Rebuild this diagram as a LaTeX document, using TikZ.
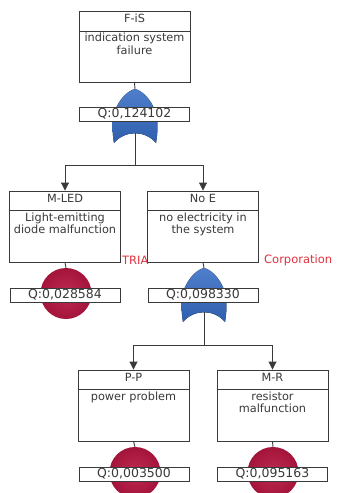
\documentclass[tikz,border=0pt]{standalone}
\usepackage{fontspec}
\setmainfont{DejaVu Sans}
\usetikzlibrary{arrows.meta}
\definecolor{ink}{HTML}{3A3A3A}
\definecolor{gateblue}{HTML}{2F5EAE}
\definecolor{gatelight}{HTML}{4F7FCB}
\definecolor{evred}{HTML}{A3143B}
\definecolor{evlight}{HTML}{C02A50}
\definecolor{mark}{HTML}{E0323E}
\tikzset{
  evbox/.style={draw=ink, line width=0.9pt, minimum width=111pt, minimum height=71pt, inner sep=0pt},
  qbox/.style={draw=ink, line width=0.9pt, fill=white, minimum width=110pt, minimum height=14pt, inner sep=0pt, font=\fontsize{12.5}{13}\selectfont, text=ink},
  hdr/.style={font=\fontsize{11.3}{12}\selectfont, text=ink, inner sep=0pt},
  desc/.style={font=\fontsize{11.3}{12.5}\selectfont, text=ink, align=center, inner sep=0pt, anchor=north},
  link/.style={draw=ink, line width=0.9pt},
  arr/.style={link, -{Triangle[width=8pt,length=8pt]}},
  basic/.style={circle, minimum size=51pt, inner sep=0pt, inner color=evlight, outer color=evred},
  wm/.style={text=mark, font=\fontsize{11.5}{12}\selectfont, inner sep=0pt},
  pics/orgate/.style={code={
    \fill[top color=gatelight, bottom color=gateblue]
      (0,0) .. controls (8,1.5) and (20,14) .. (22,30)
      .. controls (23,40) and (22,48) .. (21,54)
      .. controls (10,41) and (-10,41) .. (-21,54)
      .. controls (-22,48) and (-23,40) .. (-22,30)
      .. controls (-20,14) and (-8,1.5) .. (0,0) -- cycle;
    \coordinate (-tip) at (0,0);
    \coordinate (-out) at (0,44);
  }}
}
\newcommand{\eventbox}[4]{%
  % #1 name, #2 centre, #3 header text, #4 description
  \node[evbox] (#1) at (#2) {};
  \draw[link] ([yshift=-20pt]#1.north west) -- ([yshift=-20pt]#1.north east);
  \node[hdr] (#1-h) at ([yshift=-7.5pt]#1.north) {#3};
  \node[desc] (#1-d) at ([yshift=-22pt]#1.north) {#4};
}
\begin{document}
\begin{tikzpicture}[x=1pt, y=-1pt]
\useasboundingbox[fill=white] (0,0) rectangle (338,493);

% top event and its OR gate
\eventbox{fis}{134.5,47}{F-iS}{indication system\\failure}
\pic (g1) at (135,89) {orgate};
\draw[link] (fis.south) -- (g1-tip);
\node[qbox] (q1) at (134.5,114) {Q:0,124102};

% second level
\eventbox{mled}{65,226.5}{M-LED}{Light-emitting\\diode malfunction}
\eventbox{noe}{203,226.5}{No E}{no electricity in\\the system}
\coordinate (j1) at (135,165);
\draw[link] (g1-out) -- (j1);
\draw[arr] (j1) -| (mled.north);
\draw[arr] (j1) -| (noe.north);

\node[basic] (b1) at (66,293.5) {};
\draw[link] (mled.south) -- (b1.north);
\node[qbox] (q2) at (65,295) {Q:0,028584};

\pic (g2) at (204,268) {orgate};
\draw[link] (noe.south) -- (g2-tip);
\node[qbox] (q3) at (203,295) {Q:0,098330};

\node[wm, anchor=west] (wm1) at (122,260) {TRIA};
\node[wm, anchor=west] (wm2) at (264,260) {Corporation};

% third level
\eventbox{pp}{133.5,405.5}{P-P}{power problem}
\eventbox{mr}{272.5,405.5}{M-R}{resistor\\malfunction}
\coordinate (j2) at (204,345);
\draw[link] (g2-out) -- (j2);
\draw[arr] (j2) -| (pp.north);
\draw[arr] (j2) -| (mr.north);

\node[basic] (b2) at (135,472.5) {};
\draw[link] (pp.south) -- (b2.north);
\node[qbox] (q4) at (134,474) {Q:0,003500};

\node[basic] (b3) at (273,472.5) {};
\draw[link] (mr.south) -- (b3.north);
\node[qbox] (q5) at (272.5,474) {Q:0,095163};
\end{tikzpicture}
\end{document}
